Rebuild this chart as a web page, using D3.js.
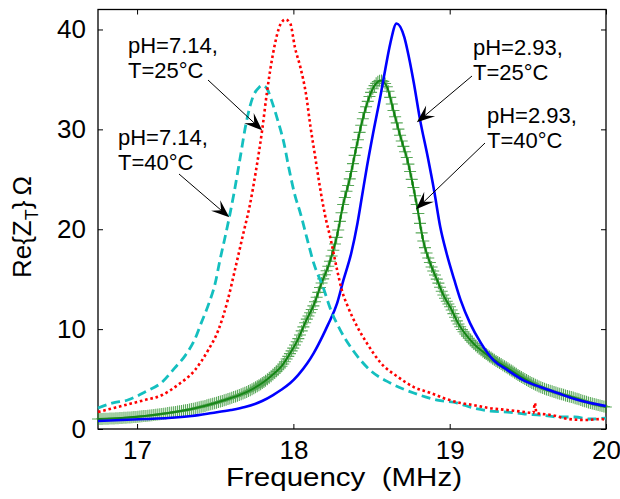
<!DOCTYPE html>
<html>
<head>
<meta charset="utf-8">
<script src="https://cdn.jsdelivr.net/npm/d3@7"></script>
<style>
  body { margin: 0; background: #fff; }
  text { font-family: "Liberation Sans", Arial, sans-serif; fill: #000; }
</style>
</head>
<body>
<div id="chart"></div>
<script>
// tick labels
const xTicks = [17, 18, 19, 20];
const yTicks = [0, 10, 20, 30, 40];

// pH=7.14, T=25°C (red dotted)
const fRed = [16.75, 16.85, 16.95, 17.05, 17.16, 17.26, 17.37, 17.455, 17.52, 17.58, 17.63, 17.68, 17.72, 17.76, 17.80, 17.83, 17.87, 17.92, 17.95, 17.98, 18.01, 18.045, 18.08, 18.11, 18.14, 18.17, 18.20, 18.24, 18.28, 18.31, 18.35, 18.41, 18.47, 18.56, 18.67, 18.77, 18.88, 18.96, 19.07, 19.15, 19.25, 19.37, 19.48, 19.535, 19.545, 19.555, 19.65, 19.76, 19.87, 19.97, 20.0];
const zRed = [1.7, 2.1, 2.5, 2.9, 3.4, 4.4, 5.9, 7.9, 9.9, 12.9, 16.2, 19.6, 22.3, 25.8, 29.9, 33.6, 37.6, 40.6, 41.0, 40.6, 38.2, 36.2, 33.6, 30.2, 27.2, 24.2, 21.6, 18.9, 15.9, 13.9, 12.2, 10.2, 8.6, 6.6, 5.2, 4.2, 3.6, 3.1, 2.6, 2.4, 2.1, 1.9, 1.7, 1.6, 2.6, 1.6, 1.4, 1.0, 0.9, 1.0, 0.9];

// pH=7.14, T=40°C (cyan dashed)
const fCyan = [16.75, 16.84, 16.94, 17.05, 17.16, 17.24, 17.31, 17.37, 17.41, 17.46, 17.50, 17.53, 17.56, 17.59, 17.62, 17.66, 17.70, 17.74, 17.78, 17.80, 17.83, 17.86, 17.90, 17.94, 17.97, 18.01, 18.045, 18.09, 18.13, 18.19, 18.24, 18.30, 18.38, 18.49, 18.62, 18.77, 18.92, 19.05, 19.15, 19.26, 19.37, 19.48, 19.58, 19.70, 19.80, 19.90, 20.0];
const zCyan = [2.1, 2.6, 2.9, 3.7, 4.7, 6.1, 7.4, 9.0, 10.6, 12.6, 14.6, 16.9, 19.0, 21.2, 23.6, 27.2, 30.8, 33.2, 34.2, 34.4, 34.1, 32.9, 30.9, 28.6, 26.2, 23.4, 21.6, 18.9, 16.6, 14.2, 11.9, 9.9, 7.9, 5.9, 4.6, 3.6, 2.9, 2.6, 2.1, 1.8, 1.7, 1.5, 1.4, 1.2, 1.2, 1.0, 1.1];

// pH=2.93, T=25°C (blue solid)
const fBlue = [16.75, 16.9, 17.05, 17.2, 17.35, 17.48, 17.6, 17.69, 17.80, 17.87, 17.92, 17.98, 18.03, 18.09, 18.13, 18.19, 18.22, 18.28, 18.32, 18.37, 18.41, 18.44, 18.47, 18.51, 18.56, 18.59, 18.62, 18.66, 18.71, 18.73, 18.77, 18.81, 18.86, 18.90, 18.94, 18.98, 19.03, 19.07, 19.13, 19.20, 19.28, 19.37, 19.47, 19.58, 19.69, 19.80, 19.90, 20.0];
const zBlue = [0.8, 0.9, 1.0, 1.1, 1.3, 1.6, 1.9, 2.2, 2.8, 3.4, 3.9, 4.6, 5.4, 6.6, 7.6, 9.4, 10.4, 12.6, 14.9, 17.6, 20.6, 23.4, 26.2, 29.6, 33.6, 36.2, 38.6, 40.6, 39.2, 37.9, 34.7, 31.0, 27.2, 23.9, 20.2, 17.6, 14.9, 12.9, 10.6, 8.6, 6.9, 5.9, 4.9, 4.2, 3.6, 3.0, 2.6, 2.3];

// pH=2.93, T=40°C (green with + markers)
const fGreen = [16.75, 16.9, 17.05, 17.2, 17.35, 17.5, 17.6, 17.7, 17.81, 17.88, 17.93, 17.98, 18.03, 18.08, 18.13, 18.18, 18.23, 18.28, 18.32, 18.36, 18.40, 18.44, 18.48, 18.52, 18.56, 18.60, 18.64, 18.69, 18.73, 18.77, 18.79, 18.83, 18.88, 18.92, 18.96, 19.01, 19.05, 19.15, 19.26, 19.37, 19.47, 19.58, 19.69, 19.80, 19.90, 20.0];
const zGreen = [1.0, 1.1, 1.3, 1.6, 2.0, 2.6, 3.1, 3.7, 4.7, 5.6, 6.4, 7.6, 9.0, 10.8, 12.4, 14.6, 16.6, 19.4, 22.6, 25.0, 28.0, 30.8, 33.0, 34.4, 34.9, 34.2, 31.9, 29.0, 26.9, 24.0, 22.4, 18.9, 16.4, 14.9, 13.4, 12.0, 10.7, 8.6, 7.2, 6.1, 5.1, 4.2, 3.6, 3.1, 2.6, 2.2];

// annotations: text lines, text position, arrow start (px), arrow tip (data)
const notes = [
  { lines: ['pH=7.14,', 'T=25°C'], x: 128, y: 53, from: [208, 80], tip: [17.80, 29.9] },
  { lines: ['pH=7.14,', 'T=40°C'], x: 118, y: 145, from: [179, 174], tip: [17.59, 21.2] },
  { lines: ['pH=2.93,', 'T=25°C'], x: 473, y: 55, from: [472, 76], tip: [18.79, 30.7] },
  { lines: ['pH=2.93,', 'T=40°C'], x: 487, y: 123, from: [485, 143], tip: [18.785, 22.0] }
];

const width = 620, height = 499;
const margin = { left: 98, right: 14, top: 9.5, bottom: 70 };

const svg = d3.select('#chart').append('svg')
  .attr('width', width)
  .attr('height', height);

const x = d3.scaleLinear().domain([16.75, 20]).range([margin.left, width - margin.right]);
const y = d3.scaleLinear().domain([0, 42]).range([height - margin.bottom, margin.top]);

const x0 = x.range()[0], x1 = x.range()[1];
const y0 = y.range()[0], y1 = y.range()[1];

// frame
svg.append('rect')
  .attr('x', x0).attr('y', y1)
  .attr('width', x1 - x0).attr('height', y0 - y1)
  .attr('fill', 'none').attr('stroke', '#000').attr('stroke-width', 1.3);

// axes, ticks pointing inward on all four sides
const tl = 5;
svg.append('g').attr('transform', `translate(0,${y0})`)
  .call(d3.axisBottom(x).tickValues(xTicks).tickSize(-tl).tickPadding(12).tickFormat(d3.format('d')))
  .call(g => g.select('.domain').remove());
svg.append('g').attr('transform', `translate(0,${y1})`)
  .call(d3.axisTop(x).tickValues(xTicks).tickSize(-tl).tickFormat(''))
  .call(g => g.select('.domain').remove());
svg.append('g').attr('transform', `translate(${x0},0)`)
  .call(d3.axisLeft(y).tickValues(yTicks).tickSize(-tl).tickPadding(12).tickFormat(d3.format('d')))
  .call(g => g.select('.domain').remove());
svg.append('g').attr('transform', `translate(${x1},0)`)
  .call(d3.axisRight(y).tickValues(yTicks).tickSize(-tl).tickFormat(''))
  .call(g => g.select('.domain').remove());

svg.selectAll('.tick line').attr('stroke', '#000').attr('stroke-width', 1);
svg.selectAll('.tick text')
  .style('font-family', '"Liberation Sans", Arial, sans-serif')
  .style('font-size', '26px')
  .attr('fill', '#000');

// axis labels
svg.append('text')
  .attr('x', 226).attr('y', 486)
  .attr('textLength', 236).attr('lengthAdjust', 'spacingAndGlyphs')
  .style('font-size', '25px')
  .text('Frequency\u00a0 (MHz)');

const ylab = svg.append('text')
  .attr('transform', 'translate(31,227) rotate(-90)')
  .attr('text-anchor', 'middle')
  .style('font-size', '26px');
ylab.append('tspan').text('Re{Z');
ylab.append('tspan').attr('dy', 7).style('font-size', '18px').text('T');
ylab.append('tspan').attr('dy', -7).text('}\u2009Ω');

// lines
const line = d3.line()
  .x(d => x(d[0]))
  .y(d => y(d[1]))
  .curve(d3.curveMonotoneX);

const zip = (f, z) => f.map((v, i) => [v, z[i]]);

const plot = svg.append('g');

const greenPath = plot.append('path')
  .datum(zip(fGreen, zGreen))
  .attr('d', line)
  .attr('fill', 'none')
  .attr('stroke', '#007a00')
  .attr('stroke-width', 2);

// + markers, spaced evenly in frequency along the green line
const gn = greenPath.node();
const total = gn.getTotalLength();
const marks = [];
let nextX = -Infinity;
for (let s = 0; s <= total; s += 0.4) {
  const p = gn.getPointAtLength(s);
  if (p.x >= nextX) { marks.push(p); nextX = p.x + 1.6; }
}
const m = 6;
plot.append('path')
  .attr('d', marks.map(p => `M${p.x - m},${p.y}H${p.x + m}M${p.x},${p.y - m}V${p.y + m}`).join(''))
  .attr('fill', 'none')
  .attr('stroke', '#228b22')
  .attr('stroke-opacity', 0.75)
  .attr('stroke-width', 1.1);

plot.append('path')
  .datum(zip(fBlue, zBlue))
  .attr('d', line)
  .attr('fill', 'none')
  .attr('stroke', '#0000ff')
  .attr('stroke-width', 2.6);

plot.append('path')
  .datum(zip(fCyan, zCyan))
  .attr('d', line)
  .attr('fill', 'none')
  .attr('stroke', '#14bfbf')
  .attr('stroke-width', 2.8)
  .attr('stroke-dasharray', '9,5');

plot.append('path')
  .datum(zip(fRed, zRed))
  .attr('d', line)
  .attr('fill', 'none')
  .attr('stroke', '#ff0000')
  .attr('stroke-width', 2.6)
  .attr('stroke-dasharray', '2.6,2.8');

// annotations with arrows
notes.forEach(n => {
  const t = svg.append('text').style('font-size', '22px');
  n.lines.forEach((s, i) => {
    t.append('tspan').attr('x', n.x).attr('y', n.y + i * 25).text(s);
  });
  const tx = x(n.tip[0]), ty = y(n.tip[1]);
  const [fx, fy] = n.from;
  const dx = tx - fx, dy = ty - fy, len = Math.hypot(dx, dy);
  const ux = dx / len, uy = dy / len, nx = -uy, ny = ux;
  const L = 18, W = 7;
  svg.append('line')
    .attr('x1', fx).attr('y1', fy)
    .attr('x2', tx - ux * 10).attr('y2', ty - uy * 10)
    .attr('stroke', '#000').attr('stroke-width', 1);
  svg.append('path')
    .attr('d', `M${tx},${ty}L${tx - ux * L + nx * W},${ty - uy * L + ny * W}L${tx - ux * L * 0.6},${ty - uy * L * 0.6}L${tx - ux * L - nx * W},${ty - uy * L - ny * W}Z`)
    .attr('fill', '#000');
});
</script>
</body>
</html>
